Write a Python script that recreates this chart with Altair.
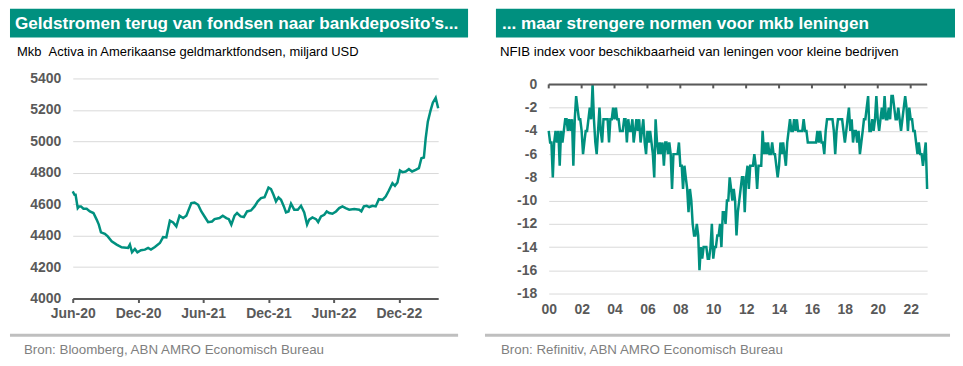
import altair as alt
import pandas as pd

TEAL = "#00907f"
AXIS_DARK = "#595959"
GRID = "#d9d9d9"
FONT = "Liberation Sans"

# ---------------- left panel data: money market fund assets ----------------
left_title = "Geldstromen terug van fondsen naar bankdeposito’s..."
left_subtitle = "Mkb\u00a0\u00a0Activa in Amerikaanse geldmarktfondsen, miljard USD"
left_source = "Bron: Bloomberg, ABN AMRO Economisch Bureau"

mmf_dates = ["2020-06-01","2020-06-06","2020-06-09","2020-06-15","2020-06-19","2020-06-24","2020-07-01","2020-07-10","2020-07-19","2020-07-29",
             "2020-08-07","2020-08-13","2020-08-19","2020-08-30","2020-09-07","2020-09-18","2020-10-02","2020-10-16","2020-11-03","2020-11-08",
             "2020-11-14","2020-11-22","2020-11-29","2020-12-09","2020-12-20","2020-12-29","2021-01-06","2021-01-17","2021-01-31","2021-02-09",
             "2021-02-18","2021-02-28","2021-03-09","2021-03-18","2021-03-27","2021-04-06","2021-04-15","2021-04-29","2021-05-08","2021-05-18",
             "2021-05-27","2021-06-05","2021-06-15","2021-06-26","2021-07-03","2021-07-17","2021-07-26","2021-08-05","2021-08-12","2021-08-19",
             "2021-08-28","2021-09-04","2021-09-14","2021-09-23","2021-10-02","2021-10-13","2021-10-23","2021-11-01","2021-11-10","2021-11-20",
             "2021-12-01","2021-12-08","2021-12-15","2021-12-22","2021-12-29","2022-01-05","2022-01-13","2022-01-19","2022-01-26","2022-02-02",
             "2022-02-11","2022-02-21","2022-03-02","2022-03-11","2022-03-19","2022-03-25","2022-04-03","2022-04-13","2022-04-19","2022-04-27",
             "2022-05-06","2022-05-13","2022-05-20","2022-05-29","2022-06-08","2022-06-17","2022-06-26","2022-07-05","2022-07-15","2022-07-29",
             "2022-08-12","2022-08-18","2022-08-25","2022-09-02","2022-09-09","2022-09-18","2022-09-27","2022-10-06","2022-10-16","2022-10-25",
             "2022-11-03","2022-11-13","2022-11-20","2022-11-27","2022-12-04","2022-12-11","2022-12-20","2022-12-29","2023-01-07","2023-01-17",
             "2023-01-26","2023-02-02","2023-02-09","2023-02-14","2023-02-20","2023-02-28","2023-03-06","2023-03-14","2023-03-21"]
mmf_values = [4681,4660,4660,4575,4586,4586,4571,4571,4554,4544,
              4502,4470,4421,4412,4395,4364,4343,4326,4322,4343,
              4294,4315,4294,4307,4311,4322,4311,4328,4353,4391,
              4389,4495,4484,4459,4527,4512,4527,4607,4611,4596,
              4554,4522,4486,4490,4505,4512,4527,4512,4505,4470,
              4527,4544,4522,4518,4554,4560,4586,4618,4639,4645,
              4706,4696,4660,4618,4643,4628,4586,4548,4554,4603,
              4565,4565,4590,4548,4470,4502,4516,4505,4486,4522,
              4533,4554,4544,4539,4554,4575,4586,4575,4565,4569,
              4565,4554,4586,4590,4582,4590,4586,4632,4628,4649,
              4687,4734,4717,4738,4814,4804,4808,4823,4808,4818,
              4829,4892,4897,5019,5125,5199,5246,5277,5210]
left_x_domain = [(2020, 6, 1), (2023, 3, 21)]
left_x_ticks = [(2020, 6), (2020, 12), (2021, 6), (2021, 12), (2022, 6), (2022, 12)]
left_y_domain = [4000, 5400]
left_y_ticks = [4000, 4200, 4400, 4600, 4800, 5000, 5200, 5400]

# ---------------- right panel data: NFIB loan availability ----------------
right_title = "... maar strengere normen voor mkb leningen"
right_subtitle = "NFIB index voor beschikbaarheid van leningen voor kleine bedrijven"
right_source = "Bron: Refinitiv, ABN AMRO Economisch Bureau"

nfib_start = "2000-01-01"
nfib_values = [
    -4, -5, -5, -8, -5, -4, -5, -4, -7, -4, -5, -4,        # 2000
    -3, -3, -4, -3, -4, -3, -7, -3, -1, -2, -3, -3,        # 2001
    -4, -6, -5, -4, -4, -3, -2, -3, 0, -3, -5, -6,         # 2002
    -4, -2, -4, -5, -3, -3, -3, -3, -5, -3, -3, -2,        # 2003
    -3, -2, -3, -3, -4, -4, -4, -3, -3, -5, -3, -4,        # 2004
    -4, -3, -5, -4, -3, -4, -3, -5, -4, -3, -5, -6,        # 2005
    -4, -5, -4, -5, -6, -8, -3, -5, -6, -5, -6, -5,        # 2006
    -7, -5, -5, -6, -5, -6, -9, -6, -6, -6, -6, -5,        # 2007
    -7, -7, -9, -7, -8, -9, -11, -9, -10, -12, -13, -13,   # 2008
    -12, -13, -16, -14, -15, -14, -14, -14, -15, -15, -14, -12,  # 2009
    -15, -14, -14, -13, -13, -12, -14, -11, -11, -12, -10, -10,  # 2010
    -8, -9, -10, -9, -10, -13, -11, -10, -9, -8, -8, -11,  # 2011
    -8, -7, -9, -7, -7, -7, -6, -7, -9, -7, -7, -7,        # 2012
    -4, -6, -5, -6, -5, -6, -6, -5, -6, -6, -7, -8,        # 2013
    -7, -5, -6, -5, -6, -7, -5, -4, -3, -4, -4, -3,        # 2014
    -4, -3, -4, -4, -4, -4, -3, -4, -4, -5, -5, -5,        # 2015
    -5, -5, -5, -5, -4, -5, -4, -5, -5, -6, -4, -3,        # 2016
    -3, -3, -3, -3, -4, -6, -4, -3, -3, -3, -3, -4,        # 2017
    -5, -4, -3, -2, -4, -3, -5, -4, -4, -5, -4, -6,        # 2018
    -5, -4, -3, -3, -2, -1, -4, -4, -3, -4, -3, -1,        # 2019
    -3, -4, -3, -2, -3, -1, -3, -3, -2, -3, -1, -1,        # 2020
    -2, -3, -3, -2, -3, -4, -3, -2, -1, -2, -4, -2,        # 2021
    -3, -3, -4, -4, -5, -6, -5, -6, -6, -7, -6, -5,        # 2022
    -9,                                                    # 2023
]
right_x_domain = [(2000, 1, 1), (2023, 1, 1)]
right_x_tick_years = [2000, 2002, 2004, 2006, 2008, 2010, 2012, 2014, 2016, 2018, 2020, 2022]
# a little headroom above 0 so the panel's plot top lines up with the left panel
right_y_domain = [-18, 0.514]
right_y_ticks = [0, -2, -4, -6, -8, -10, -12, -14, -16, -18]

# ---------------- frames ----------------
df_left = pd.DataFrame({"date": pd.to_datetime(mmf_dates), "value": mmf_values})
df_right = pd.DataFrame({
    "date": pd.date_range(nfib_start, periods=len(nfib_values), freq="MS"),
    "value": nfib_values,
})
df_zero = pd.DataFrame({"value": [0]})
df_right_ticks = pd.DataFrame({
    "date": pd.to_datetime([f"{y}-01-01" for y in right_x_tick_years]),
    "value": [0] * len(right_x_tick_years),
})

LABEL_EXPR = "replace('' + datum.value, '\u2212', '-')"


def dt(y, m, d=1):
    return alt.DateTime(year=y, month=m, date=d)


def text_layer(txt, x, y, size, color, weight="normal"):
    return alt.Chart(pd.DataFrame({"label": [txt]})).mark_text(
        align="left", baseline="middle", font=FONT, fontSize=size,
        fontWeight=weight, color=color,
    ).encode(text="label:N", x=alt.value(x), y=alt.value(y))


def banner(x1, x2, y1, y2):
    return alt.Chart(pd.DataFrame({"k": [0]})).mark_rect(color=TEAL).encode(
        x=alt.value(x1), x2=alt.value(x2), y=alt.value(y1), y2=alt.value(y2)
    )


def separator(x1, x2, y):
    return alt.Chart(pd.DataFrame({"k": [0]})).mark_rule(color="#bfbfbf", strokeWidth=3).encode(
        x=alt.value(x1), x2=alt.value(x2), y=alt.value(y)
    )


# ---------------- left chart ----------------
LW, LH = 367, 221
left_line = alt.Chart(df_left).mark_line(color=TEAL, strokeWidth=2.5).encode(
    x=alt.X("date:T",
            scale=alt.Scale(domain=[dt(*d) for d in left_x_domain]),
            axis=alt.Axis(values=[dt(y, m) for y, m in left_x_ticks], format="%b-%y",
                          title=None, grid=False, domain=True, domainColor=AXIS_DARK,
                          domainWidth=2, ticks=True, tickColor=AXIS_DARK, tickWidth=2,
                          tickSize=4, labelPadding=4, labelOverlap=False, labelFlush=False)),
    y=alt.Y("value:Q",
            scale=alt.Scale(domain=left_y_domain, nice=False, zero=False),
            axis=alt.Axis(values=left_y_ticks, title=None, grid=True, domain=False,
                          ticks=False, labelPadding=12, labelExpr=LABEL_EXPR,
                          labelOverlap=False)),
)

left = alt.layer(
    banner(-63, 397, -70, -41),
    text_layer(left_title, -58, -55, 17.2, "white", "bold"),
    text_layer(left_subtitle, -56, -27, 13, "black"),
    left_line,
    separator(-63, 387, 258),
    text_layer(left_source, -49, 273, 13.4, "#7f7f7f"),
).properties(width=LW, height=LH)

# ---------------- right chart ----------------
RW, RH = 380, 216
right_x_enc = alt.X("date:T",
                    scale=alt.Scale(domain=[dt(*d) for d in right_x_domain]),
                    axis=alt.Axis(values=[dt(y, 1) for y in right_x_tick_years], format="%y",
                                  title=None, grid=False, domain=False, ticks=False,
                                  labelPadding=9, labelOverlap=False, labelFlush=False))
right_y_enc = alt.Y("value:Q",
                    scale=alt.Scale(domain=right_y_domain, nice=False, zero=False),
                    axis=alt.Axis(values=right_y_ticks, title=None, grid=True, domain=False,
                                  ticks=False, labelPadding=12, labelExpr=LABEL_EXPR,
                                  labelOverlap=False))

right_line = alt.Chart(df_right).mark_line(color=TEAL, strokeWidth=2.5).encode(
    x=right_x_enc, y=right_y_enc
)
zero_line = alt.Chart(df_zero).mark_rule(color=AXIS_DARK, strokeWidth=2).encode(
    y=right_y_enc
)
zero_ticks = alt.Chart(df_right_ticks).mark_rule(color=AXIS_DARK, strokeWidth=2).encode(
    x=right_x_enc, y=right_y_enc, y2=alt.value(10)
)

right = alt.layer(
    banner(-53, 408, -70, -41),
    text_layer(right_title, -47, -55, 17.2, "white", "bold"),
    text_layer(right_subtitle, -49, -27, 13.3, "black"),
    right_line,
    zero_line,
    zero_ticks,
    separator(-64, 403, 258),
    text_layer(right_source, -48, 273, 13.4, "#7f7f7f"),
).properties(width=RW, height=RH)

chart = alt.hconcat(left, right, spacing=15).properties(padding=0).configure_view(
    stroke=None
).configure_axis(
    labelFont=FONT, labelFontSize=14, labelFontWeight="bold", labelColor=AXIS_DARK,
    gridColor=GRID, gridWidth=1,
)

chart.save("out.html", embed_options={"renderer": "svg", "actions": False})
